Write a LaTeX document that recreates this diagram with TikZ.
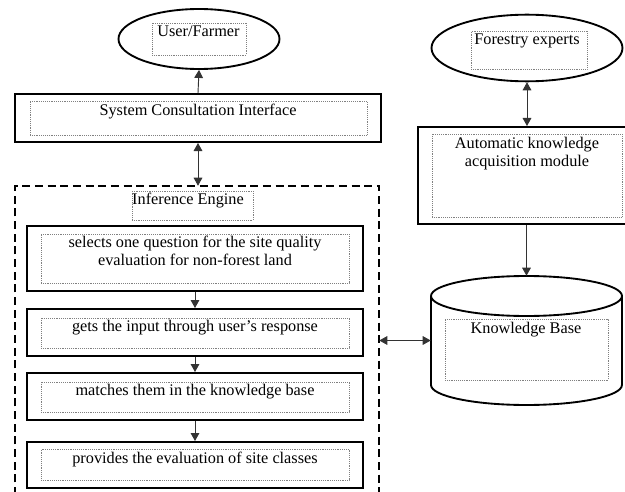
\documentclass[tikz,border=0pt]{standalone}
\usepackage{fontspec}
\setmainfont{Liberation Serif}
\usetikzlibrary{arrows.meta,fit,shapes.geometric}
\begin{document}
\begin{tikzpicture}[x=0.75pt,y=-0.75pt,
  box/.style={draw=black,line width=1.5pt,inner sep=0pt,rectangle},
  inbox/.style={draw=gray,line width=0.4pt,densely dotted,inner sep=0pt,rectangle},
  oval/.style={draw=black,line width=1.4pt,ellipse,inner sep=0pt},
  ghost/.style={inner sep=0pt,rectangle},
  txt/.style={inner sep=0pt,font=\fontsize{12.2}{13.2}\selectfont,align=center},
  ctn/.style={draw=black,line width=1.4pt,dash pattern=on 6pt off 3.5pt},
  conn/.style={draw=black!80,line width=0.7pt},
  tip/.style={-{Triangle[length=6pt,width=6.5pt]}},
  tips/.style={{Triangle[length=6pt,width=6.5pt]}-{Triangle[length=6pt,width=6.5pt]}}]
\useasboundingbox (0,0) rectangle (625,492);

% User/Farmer
\node[oval,minimum width=120.75pt,minimum height=45pt] (user) at (199,39) {};
\node[inbox,fit={(152,23) (246,55)}] (userin) {};
\node[txt,anchor=base] (usert) at (198.5,37) {User/Farmer};

% System Consultation Interface
\node[box,fit={(15,94) (381,142)}] (sci) {};
\node[inbox,fit={(30,101) (367,135)}] (sciin) {};
\node[txt,anchor=base] (scit) at (198,115) {System Consultation Interface};

% Inference engine container
\node[ghost,fit={(15,186) (379,520)}] (ie) {};
\draw[ctn] (ie.south west) -- (ie.north west) -- (ie.north east) -- (ie.south east);
\node[inbox,fit={(132,191) (253,220)}] (iein) {};
\node[txt,anchor=base] (iet) at (188,204) {Inference Engine};

% Steps
\node[box,fit={(27,226) (363,291)}] (s1) {};
\node[inbox,fit={(41,234) (349,283)}] (s1in) {};
\node[txt,anchor=north] (s1t) at (195,236) {selects one question for the site quality\\evaluation for non-forest land};

\node[box,fit={(27,309) (363,356)}] (s2) {};
\node[inbox,fit={(41,318) (349,348)}] (s2in) {};
\node[txt,anchor=base] (s2t) at (195,331) {gets the input through user’s response};

\node[box,fit={(27,373) (363,420)}] (s3) {};
\node[inbox,fit={(41,382) (349,412)}] (s3in) {};
\node[txt,anchor=base] (s3t) at (195,395) {matches them in the knowledge base};

\node[box,fit={(27,442) (363,488)}] (s4) {};
\node[inbox,fit={(41,449) (349,480)}] (s4in) {};
\node[txt,anchor=base] (s4t) at (195,463) {provides the evaluation of site classes};

% Forestry experts
\node[oval,minimum width=143.25pt,minimum height=50pt] (forest) at (527,48) {};
\node[inbox,fit={(471,31) (587,69)}] (forestin) {};
\node[txt,anchor=base] (forestt) at (527,45) {Forestry experts};

% Automatic knowledge acquisition module
\node[box,fit={(418,127) (627,224)}] (auto) {};
\node[inbox,fit={(432,134) (622,217)}] (autoin) {};
\node[txt,anchor=north] (autot) at (527,137) {Automatic knowledge\\acquisition module};

% Knowledge base cylinder
\node[ghost,fit={(431,276) (622,405)}] (kb) {};
\draw[line width=1.4pt] (526.5,296) ellipse [x radius=71.6pt,y radius=15pt];
\draw[line width=1.4pt] (431,296) -- (431,385) arc[start angle=180,end angle=360,x radius=71.6pt,y radius=15pt] -- (622,296);
\node[inbox,fit={(445,319) (608,380)}] (kbin) {};
\node[txt,anchor=base] (kbt) at (526,333) {Knowledge Base};

% Connectors
\draw[conn,tip] (sci.north) -- (user.south);
\draw[conn,tips] (sci.south) -- (ie.north -| sci.south);
\draw[conn,tip] (s1.south) -- (s2.north);
\draw[conn,tip] (s2.south) -- (s3.north);
\draw[conn,tip] (s3.south) -- (s4.north);
\draw[conn,tips] (forest.south) -- (auto.north -| forest.south);
\draw[conn,tip] (auto.south -| kb.north) -- (kb.north);
\draw[conn,tips] (kb.west -| ie.east) -- (kb.west);
\end{tikzpicture}
\end{document}
